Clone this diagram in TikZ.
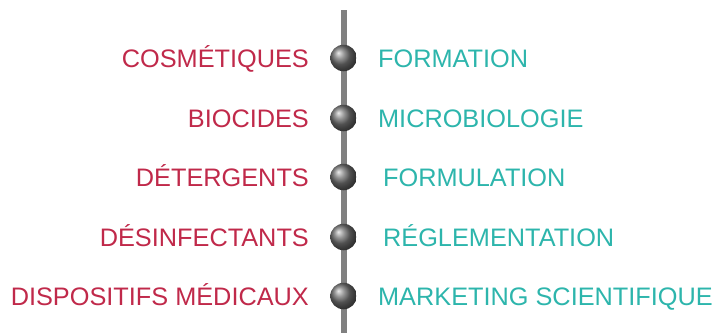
\documentclass[tikz,border=0pt]{standalone}
\usepackage{fontspec}
\setmainfont{Liberation Sans}
\usetikzlibrary{positioning}
\definecolor{LabelRed}{RGB}{192,41,74}
\definecolor{LabelTeal}{RGB}{45,181,172}
\begin{document}
\begin{tikzpicture}[x=1bp, y=-1bp, node distance = 21bp,
BallStyle/.style={circle, minimum size=26.5bp, inner sep=0pt,
                shading=ball, ball color=gray!90!black},
LeftStyle/.style={text=LabelRed, inner sep=0pt, text height=18.2bp,
                text depth=0pt, font=\fontsize{25.4}{30}\selectfont},
RightStyle/.style={LeftStyle, text=LabelTeal},]
\useasboundingbox (0,0) rectangle (719,333);
\coordinate (top) at (343.7,10);
\coordinate (bot) at (343.7,333);
\draw [gray, line width=6bp] (top) -- (bot);
\node [BallStyle] (b1) at (343.5,58) {};
\node [BallStyle] (b2) at (343.5,118) {};
\node [BallStyle] (b3) at (343.5,177) {};
\node [BallStyle] (b4) at (343.5,237) {};
\node [BallStyle] (b5) at (343.5,296) {};
% left column
\node [LeftStyle, left=of b1] (l1) {COSMÉTIQUES};
\node [LeftStyle, left=of b2] (l2) {BIOCIDES};
\node [LeftStyle, left=of b3] (l3) {DÉTERGENTS};
\node [LeftStyle, left=of b4] (l4) {DÉSINFECTANTS};
\node [LeftStyle, left=of b5] (l5) {DISPOSITIFS MÉDICAUX};
% right column
\node [RightStyle, right=21bp of b1] (r1) {FORMATION};
\node [RightStyle, right=21bp of b2] (r2) {MICROBIOLOGIE};
\node [RightStyle, right=26bp of b3] (r3) {FORMULATION};
\node [RightStyle, right=26bp of b4] (r4) {RÉGLEMENTATION};
\node [RightStyle, right=21bp of b5] (r5) {MARKETING SCIENTIFIQUE};
\end{tikzpicture}
\end{document}
